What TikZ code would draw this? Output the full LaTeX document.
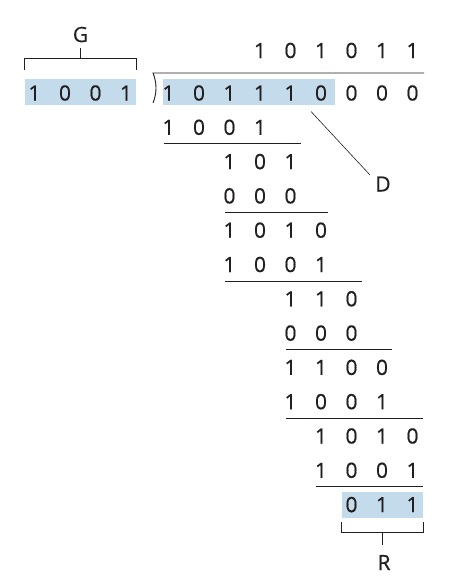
\documentclass[tikz,border=0pt]{standalone}
\usepackage{fontspec}
\setmainfont[FakeBold=0.6]{Open Sans}
\definecolor{hl}{RGB}{196,219,235}
\definecolor{ink}{RGB}{35,31,32}
\newcommand\digrow[4]{%
  \foreach \d [count=\k from 0] in {#4} {
    \node[dig] (#1-\k) at ({168.5+30.5*(#2+\k)}, #3) {\d};
  }}
\begin{document}
\begin{tikzpicture}[x=1pt,y=-1pt,
  dig/.style={anchor=base, inner sep=0pt, font=\fontsize{21}{25}\selectfont, text=ink},
  lbl/.style={anchor=base, inner sep=0pt, font=\fontsize{21}{25}\selectfont, text=ink},
  rule/.style={line width=0.9pt, draw=ink},
  hlbox/.style={fill=hl, draw=none, inner sep=0pt}]
\useasboundingbox (0,0) rectangle (448,581);
% highlight boxes
\node[hlbox, minimum width=111pt, minimum height=26pt] (gbox) at (80.5,92) {};
\node[hlbox, minimum width=172pt, minimum height=26pt] (dbox) at (249,92) {};
\node[hlbox, minimum width=81pt, minimum height=26pt] (rbox) at (382.5,505) {};
% divisor G
\foreach \d [count=\k from 0] in {1,0,0,1} {
  \node[dig] (g-\k) at ({34.5+30.5*\k}, 100.5) {\d};
}
% quotient
\digrow{q}{3}{58}{1,0,1,0,1,1}
% rows
\digrow{r0}{0}{100.5}{1,0,1,1,1,0,0,0,0}
\digrow{r1}{0}{134.8}{1,0,0,1}
\digrow{r2}{2}{169.1}{1,0,1}
\digrow{r3}{2}{203.4}{0,0,0}
\digrow{r4}{2}{237.7}{1,0,1,0}
\digrow{r5}{2}{272.0}{1,0,0,1}
\digrow{r6}{4}{306.3}{1,1,0}
\digrow{r7}{4}{340.6}{0,0,0}
\digrow{r8}{4}{374.9}{1,1,0,0}
\digrow{r9}{4}{409.2}{1,0,0,1}
\digrow{r10}{5}{443.5}{1,0,1,0}
\digrow{r11}{5}{477.8}{1,0,0,1}
\digrow{r12}{6}{512.1}{0,1,1}
% division bar and bracket
\draw[rule] (424,73) -- (153,73) .. controls (157,83) and (157,93) .. (153,103);
% subtraction rules
\draw[rule] (163.5,143.5) -- (300.5,143.5);
\draw[rule] (224.5,212.5) -- (328,212.5);
\draw[rule] (224.5,281) -- (361.5,281);
\draw[rule] (285.5,349.5) -- (392,349.5);
\draw[rule] (285.5,418) -- (422.5,418);
\draw[rule] (316,486.5) -- (422.5,486.5);
% labels
\node[lbl] (G) at (80.5,42) {G};
\node[lbl] (D) at (383,191.5) {D};
\node[lbl] (R) at (384,570) {R};
% G bracket
\coordinate (gstem) at (80.5,48);
\draw[rule] (gbox.north west |- 0,70) -- (gbox.north west |- 0,58) -- (gbox.north east |- 0,58) -- (gbox.north east |- 0,70);
\draw[rule] (gbox.north |- 0,58) -- (gstem);
% D pointer
\coordinate (dtip) at (311,111.5);
\coordinate (dend) at (370,175);
\draw[line width=0.6pt, draw=ink] (dtip) -- (dend);
% R bracket
\coordinate (rstem) at (382.5,545);
\draw[rule] (rbox.south west |- 0,522) -- (rbox.south west |- 0,532) -- (rbox.south east |- 0,532) -- (rbox.south east |- 0,522);
\draw[rule] (rbox.south |- 0,532) -- (rstem);
\end{tikzpicture}
\end{document}
